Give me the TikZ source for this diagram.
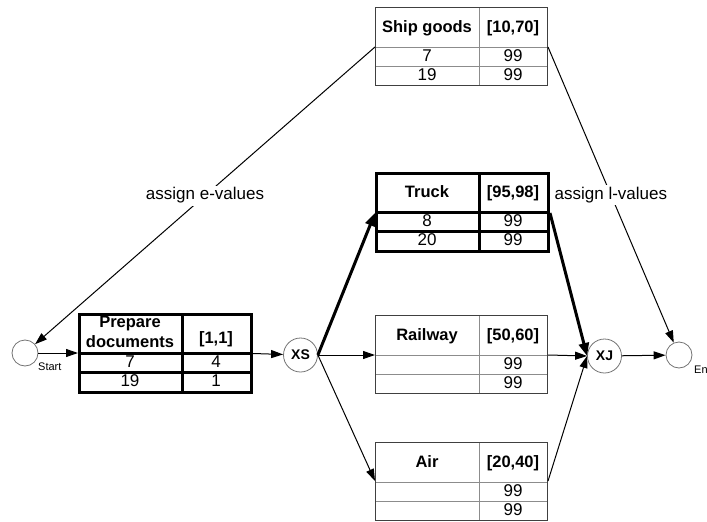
\documentclass[tikz,border=0pt]{standalone}
\usepackage{fontspec}
\setmainfont{Liberation Sans}
\usetikzlibrary{arrows.meta,calc}
\tikzset{
  thintbl/.style={draw=black!75, line width=1pt},
  thininner/.style={draw=black!45, line width=0.8pt},
  thicktbl/.style={draw=black, line width=3pt},
  thickinner/.style={draw=black, line width=3pt},
  hdr/.style={font=\bfseries\fontsize{16.5}{20}\selectfont, align=center, inner sep=0pt, anchor=base},
  val/.style={font=\fontsize{17}{20}\selectfont, inner sep=0pt, anchor=base},
  evt/.style={circle, draw=black!55, line width=0.8pt, minimum size=26pt, inner sep=0pt},
  gate/.style={circle, draw=black!55, line width=0.8pt, minimum size=34pt, inner sep=0pt, font=\bfseries\fontsize{14}{15}\selectfont},
  small/.style={font=\fontsize{11}{12}\selectfont, inner sep=0pt, anchor=base west},
  arr/.style={line width=1pt, -{Triangle[length=12pt,width=8pt]}},
  tharr/.style={line width=3pt, -{Triangle[length=13pt,width=10pt]}},
  lbl/.style={font=\fontsize{17}{20}\selectfont, fill=white, inner sep=2pt},
}
% name, x, y, kind, title, interval, title baseline offset, interval baseline offset
\newcommand\acttbl[8]{%
  \draw[#4inner] (#2,#3+40) -- (#2+172,#3+40);
  \draw[#4inner] (#2,#3+59) -- (#2+172,#3+59);
  \draw[#4inner] (#2+104,#3) -- (#2+104,#3+78);
  \node[#4tbl, minimum width=172pt, minimum height=78pt, anchor=north west, inner sep=0pt] (#1) at (#2,#3) {};
  \node[hdr] (#1-title) at (#2+52,#3+#7) {#5};
  \node[hdr] (#1-int) at (#2+138,#3+#8) {#6};
}
% node name, table, x offset, y offset, text
\newcommand\actval[5]{\node[val] (#1) at ($(#2.north west)+(#3,#4)$) {#5};}
\begin{document}
\begin{tikzpicture}[x=1pt,y=-1pt]
\useasboundingbox (0,0) rectangle (707,522);

% tables
\acttbl{ship}{375}{7}{thin}{Ship goods}{[10,70]}{25}{25}
\actval{ship-a1}{ship}{52}{54.5}{7}
\actval{ship-b1}{ship}{138}{54.5}{99}
\actval{ship-a2}{ship}{52}{73.5}{19}
\actval{ship-b2}{ship}{138}{73.5}{99}

\acttbl{truck}{375}{172}{thick}{Truck}{[95,98]}{25}{25}
\actval{truck-a1}{truck}{52}{54.5}{8}
\actval{truck-b1}{truck}{138}{54.5}{99}
\actval{truck-a2}{truck}{52}{73.5}{20}
\actval{truck-b2}{truck}{138}{73.5}{99}

\acttbl{rail}{375}{315}{thin}{Railway}{[50,60]}{25}{25}
\actval{rail-b1}{rail}{138}{54.5}{99}
\actval{rail-b2}{rail}{138}{73.5}{99}

\acttbl{air}{375}{442}{thin}{Air}{[20,40]}{25}{25}
\actval{air-b1}{air}{138}{54.5}{99}
\actval{air-b2}{air}{138}{73.5}{99}

\acttbl{prep}{78}{313}{thick}{Prepare\\documents}{[1,1]}{34}{30}
\actval{prep-a1}{prep}{52}{54.5}{7}
\actval{prep-b1}{prep}{138}{54.5}{4}
\actval{prep-a2}{prep}{52}{73.5}{19}
\actval{prep-b2}{prep}{138}{73.5}{1}

% events and gateways
\node[evt] (start) at (25,353) {};
\node[small] (startlbl) at (38,370) {Start};
\node[evt] (end) at (679,355) {};
\node[small] (endlbl) at (694,373) {En};
\node[gate] (xs) at (300.5,355) {XS};
\node[gate] (xj) at (604.5,356) {XJ};

% anchor points on tables
\coordinate (ship-l) at ($(ship.north west)+(0,40)$);
\coordinate (ship-r) at ($(ship.north east)+(0,40)$);
\coordinate (truck-l) at ($(truck.north west)+(0,41)$);
\coordinate (truck-r) at ($(truck.north east)+(0,41)$);
\coordinate (rail-l) at ($(rail.north west)+(0,40)$);
\coordinate (rail-r) at ($(rail.north east)+(0,40)$);
\coordinate (air-l) at ($(air.north west)+(0,39)$);
\coordinate (air-r) at ($(air.north east)+(0,39)$);

% connectors
\draw[arr] (start) -- (start -| prep.west);
\draw[arr] (prep.east) -- (xs);
\draw[tharr] (xs.east) -- (truck-l);
\draw[arr] (xs.east) -- (rail-l);
\draw[arr] (xs.east) -- (air-l);
\draw[tharr] (truck-r) -- (xj.west);
\draw[arr] (rail-r) -- (xj.west);
\draw[arr] (air-r) -- (xj.west);
\draw[arr] (xj) -- (end);
\draw[arr] (ship-l) -- node[lbl, pos=0.5] (elbl) {assign e-values} (start);
\draw[arr] (ship-r) -- node[lbl, pos=0.5] (llbl) {assign l-values} (end);
\end{tikzpicture}
\end{document}
